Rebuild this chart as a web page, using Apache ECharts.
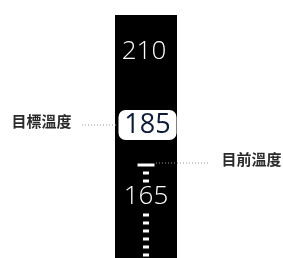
<!DOCTYPE html>
<html>
<head>
<meta charset="utf-8">
<script src="https://cdn.jsdelivr.net/npm/echarts@6/dist/echarts.min.js"></script>
<style>html,body{margin:0;padding:0;background:#fff;}#c{width:283px;height:258px;}</style>
</head>
<body>
<div id="c"></div>
<script>
// ---- data ----
const scaleLabels = [210, 165];
const targetTemp = [185];
const currentTemp = [175];
const tickMarks = [173, 171, 162.5, 160.5, 158.5, 156.5, 154.5, 152.5];
const annotationTexts = ['目標溫度', '目前溫度'];

const yMin = 151.75, yMax = 212.5;
const chart = echarts.init(document.getElementById('c'), null, {renderer: 'canvas'});
const scaleLabelOffsets = [[-2, 27], [0, -8]];
const cjkFont = '"Noto Sans CJK TC", "Noto Sans CJK SC", sans-serif';
const numFont = '"Open Sans", "Lato", sans-serif';
const hidden = {color: 'rgba(0,0,0,0)', opacity: 1};

chart.setOption({
  animation: false,
  grid: [
    {left: 115, width: 62, top: 15, height: 243, show: true, backgroundColor: '#000', borderWidth: 0},
    {left: 0, width: 283, top: 15, height: 243, show: false}
  ],
  xAxis: [
    {gridIndex: 0, type: 'category', data: ['gauge'], show: false},
    {gridIndex: 1, type: 'value', min: 0, max: 283, show: false}
  ],
  yAxis: [
    {gridIndex: 0, type: 'value', min: yMin, max: yMax, show: false},
    {gridIndex: 1, type: 'value', min: yMin, max: yMax, show: false}
  ],
  series: [
    {
      name: 'ticks', type: 'scatter', xAxisIndex: 0, yAxisIndex: 0,
      symbol: 'rect', symbolSize: [6, 3], itemStyle: {color: '#fff', opacity: 1},
      data: tickMarks.map(v => [0, v]), z: 3
    },
    {
      name: 'current', type: 'scatter', xAxisIndex: 0, yAxisIndex: 0,
      symbol: 'rect', symbolSize: [17, 3], itemStyle: {color: '#fff', opacity: 1},
      data: currentTemp.map(v => [0, v]), z: 3
    },
    {
      name: 'scale', type: 'scatter', xAxisIndex: 0, yAxisIndex: 0,
      symbolSize: 1, itemStyle: hidden,
      data: scaleLabels.map((v, i) => ({
        value: [0, v],
        label: {offset: scaleLabelOffsets[i]}
      })),
      label: {
        show: true, position: 'inside', formatter: p => String(p.value[1]),
        color: '#fff', fontSize: 26, fontWeight: 300, fontFamily: numFont
      },
      z: 4
    },
    {
      name: 'target', type: 'scatter', xAxisIndex: 0, yAxisIndex: 0,
      symbolSize: 1, itemStyle: hidden,
      data: targetTemp.map(v => [0, v]),
      label: {
        show: true, position: 'inside', formatter: p => String(p.value[1]),
        offset: [1.5, 0],
        color: '#0f1a36', fontSize: 27, fontFamily: numFont,
        backgroundColor: '#fff', borderRadius: 7,
        width: 58, height: 30, lineHeight: 30, align: 'center', verticalAlign: 'middle', padding: 0
      },
      z: 5
    },
    {
      name: 'targetConnector', type: 'line', xAxisIndex: 1, yAxisIndex: 1,
      symbol: 'none', lineStyle: {color: '#9a9a9a', width: 1, type: [1, 2]},
      data: [[82, targetTemp[0]], [118, targetTemp[0]]], z: 2
    },
    {
      name: 'currentConnector', type: 'line', xAxisIndex: 1, yAxisIndex: 1,
      symbol: 'none', lineStyle: {color: '#9a9a9a', width: 1, type: [1, 2]},
      data: [[156, currentTemp[0] + 0.5], [209, currentTemp[0] + 0.5]], z: 2
    },
    {
      name: 'annotations', type: 'scatter', xAxisIndex: 1, yAxisIndex: 1,
      symbolSize: 1, itemStyle: hidden,
      data: [
        {value: [82, targetTemp[0]], label: {position: 'left', distance: 10, offset: [0, -4], formatter: annotationTexts[0]}},
        {value: [209, currentTemp[0]], label: {position: 'right', distance: 12, offset: [0, -6], formatter: annotationTexts[1]}}
      ],
      label: {
        show: true, color: '#2b2b2b', fontSize: 15, fontWeight: 'bold', fontFamily: cjkFont
      },
      z: 4
    }
  ]
});
</script>
</body>
</html>
